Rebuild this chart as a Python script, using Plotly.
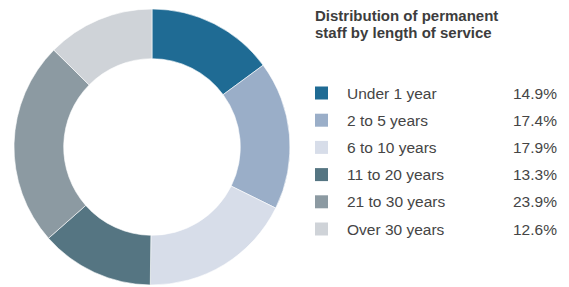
import plotly.graph_objects as go

labels = ["Under 1 year", "2 to 5 years", "6 to 10 years", "11 to 20 years", "21 to 30 years", "Over 30 years"]
values = [14.9, 17.4, 17.9, 13.3, 23.9, 12.6]
colors = ["#1f6b94", "#9aaec8", "#d7dde9", "#557582", "#8c9aa2", "#cfd3d8"]
title_lines = ["Distribution of permanent", "staff by length of service"]

W, H = 569, 287
OFF = 8  # page body margin
FW, FH = W - OFF, H - OFF
FONT = "Liberation Sans, Arial, sans-serif"
TXT = "#454545"

def px(x):
    return (x - OFF) / FW

def py(y):
    return 1 - (y - OFF) / FH

fig = go.Figure(go.Pie(
    labels=labels, values=values, sort=False, direction="clockwise", rotation=0,
    hole=0.64, marker=dict(colors=colors, line=dict(color="white", width=0.6)),
    textinfo="none", hoverinfo="label+percent", showlegend=False,
    domain=dict(x=[px(14), px(290)], y=[py(285), py(9)]),
))

shapes = []
annotations = []
for j, line in enumerate(title_lines):
    annotations.append(dict(
        x=px(313), y=py(15 + 18 * j), xref="paper", yref="paper", xanchor="left", yanchor="middle",
        text="<b>" + line + "</b>", align="left", showarrow=False,
        font=dict(family=FONT, size=15, color="#3d3d3d"),
    ))

row0, step = 93, 27.2
for i, (lab, val, col) in enumerate(zip(labels, values, colors)):
    yc = row0 + i * step
    shapes.append(dict(type="rect", xref="paper", yref="paper",
                       x0=px(315), x1=px(328), y0=py(yc - 6.5), y1=py(yc + 6.5),
                       fillcolor=col, line=dict(width=0)))
    annotations.append(dict(x=px(345), y=py(yc), xref="paper", yref="paper",
                            xanchor="left", yanchor="middle", text=lab, showarrow=False,
                            font=dict(family=FONT, size=15.5, color=TXT)))
    annotations.append(dict(x=px(559), y=py(yc), xref="paper", yref="paper",
                            xanchor="right", yanchor="middle", text=f"{val:.1f}%", showarrow=False,
                            font=dict(family=FONT, size=15.5, color=TXT)))

fig.update_layout(
    width=FW, height=FH, margin=dict(l=0, r=0, t=0, b=0),
    paper_bgcolor="white", plot_bgcolor="white",
    shapes=shapes, annotations=annotations,
)
fig.write_html("out.html")
